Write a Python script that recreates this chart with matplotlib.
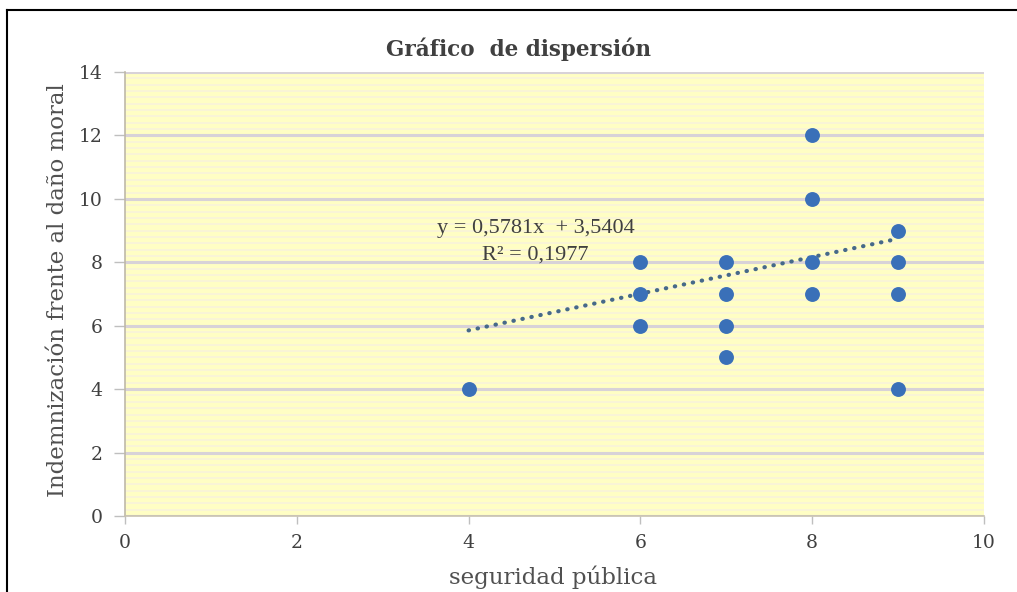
import matplotlib
matplotlib.use("Agg")
import matplotlib.pyplot as plt
import numpy as np
from matplotlib.lines import Line2D

# Data
x_vals = [4, 6, 6, 6, 7, 7, 7, 7, 8, 8, 8, 8, 9, 9, 9, 9]
y_vals = [4, 8, 7, 6, 8, 7, 6, 5, 12, 10, 8, 7, 9, 8, 7, 4]
slope = 0.5781
intercept = 3.5404
r2 = 0.1977
x_ticks = [0, 2, 4, 6, 8, 10]
y_ticks = [0, 2, 4, 6, 8, 10, 12, 14]
title = "Gráfico  de dispersión"
xlabel = "seguridad pública"
ylabel = "Indemnización frente al daño moral"

plt.rcParams['font.family'] = ['DejaVu Serif']

fig = plt.figure(figsize=(10.17, 5.92), dpi=100)
ax = fig.add_axes([125/1017, 1-516/592, (984-125)/1017, (516-72)/592])

ax.set_facecolor('#FFFEC4')
ax.set_xlim(0, 10)
ax.set_ylim(0, 14)

# minor stripes
for yv in np.arange(0, 14.001, 0.2):
    ax.axhline(yv, color='#F8F2DA', lw=1.2, zorder=0.5)
# major gridlines
for yv in y_ticks:
    ax.axhline(yv, color='#D8D2D8', lw=2.2, zorder=1)

# trendline
tx = np.array([min(x_vals), max(x_vals)])
ax.plot(tx, slope*tx + intercept, linestyle=(0, (0.1, 2.1)), color='#46698A',
        lw=3.0, zorder=2, dash_capstyle='round')

ax.scatter(x_vals, y_vals, s=115, color='#3A70B8', zorder=3, linewidths=0)

eqfont = dict(family=['Liberation Serif', 'DejaVu Serif'], fontsize=16, color='#404040')
ax.text(4.78, 9.08, f"y = {slope:.4f}x  + {intercept:.4f}".replace('.', ','),
        ha='center', va='center', zorder=4, **eqfont)
ax.text(4.78, 8.23, f"R² = {r2:.4f}".replace('.', ','),
        ha='center', va='center', zorder=4, **eqfont)

ax.set_xticks(x_ticks)
ax.set_yticks(y_ticks)
ax.set_xticklabels([str(v) for v in x_ticks])
ax.set_yticklabels([str(v) for v in y_ticks])
ax.tick_params(axis='both', labelsize=13.5, labelcolor='#404040', color='#BFBFBF')
ax.tick_params(axis='y', length=8, width=1, pad=8)
ax.tick_params(axis='x', length=6, width=1, pad=7)

for s in ['top', 'right']:
    ax.spines[s].set_visible(False)
ax.spines['left'].set_color('#BFB9A8')
ax.spines['bottom'].set_color('#C8C2B0')
ax.spines['left'].set_linewidth(1.2)
ax.spines['bottom'].set_linewidth(1.2)

fig.text(518/1017, 1-49/592, title, ha='center', va='center', fontsize=15.5,
         fontweight='bold', color='#404040')
fig.text(553/1017, 1-577/592, xlabel, ha='center', va='center', fontsize=16.5,
         color='#505050')
fig.text(58/1017, 1-290/592, ylabel, ha='center', va='center', fontsize=16.5,
         color='#505050', rotation=90)

# figure border (top and left)
fig.add_artist(Line2D([7/1017, 1], [1-10/592, 1-10/592], color='black', lw=1.5,
                      transform=fig.transFigure))
fig.add_artist(Line2D([7/1017, 7/1017], [0, 1-10/592], color='black', lw=1.5,
                      transform=fig.transFigure))

fig.savefig('out.png', dpi=100)
